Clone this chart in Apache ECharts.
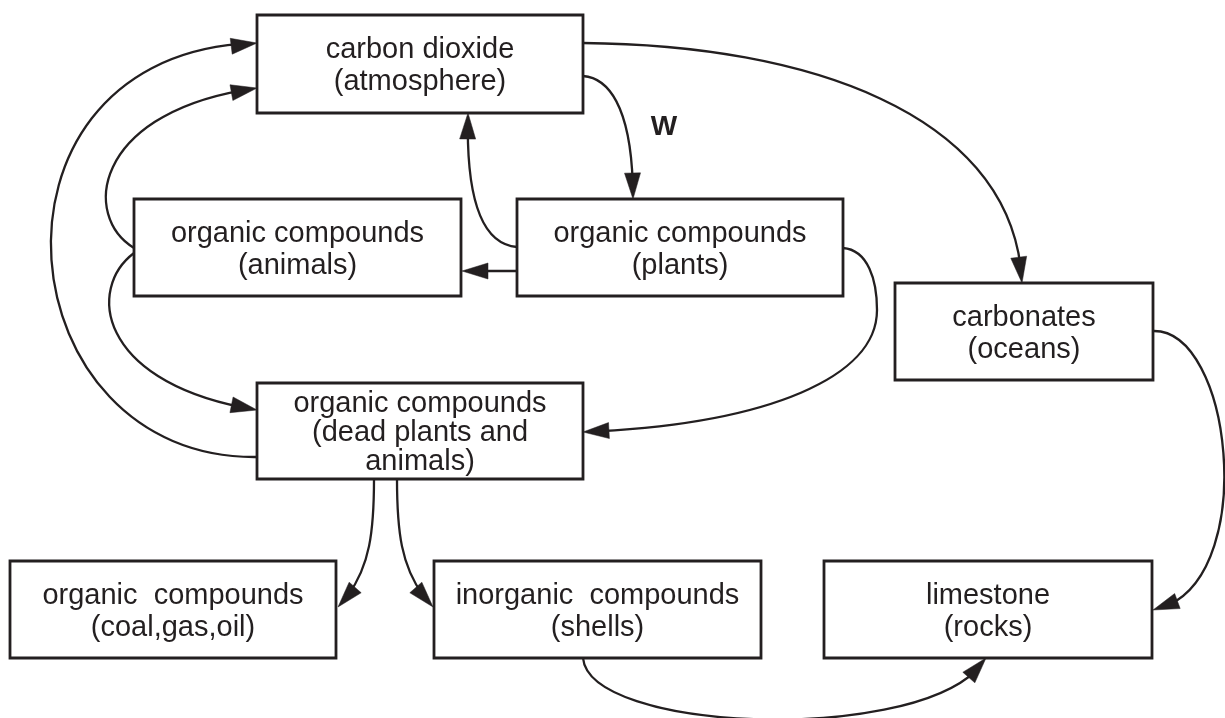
<!DOCTYPE html>
<html><head><meta charset="utf-8">
<script src="https://cdn.jsdelivr.net/npm/echarts@6/dist/echarts.min.js"></script>
<style>html,body{margin:0;padding:0;background:#fff}#c{width:1225px;height:718px}</style>
</head><body><div id="c"></div>
<script>
// ---- diagram content (diagram units = axis units) ----
const boxLabels = [
  'carbon dioxide\n(atmosphere)',
  'organic compounds\n(animals)',
  'organic compounds\n(plants)',
  'carbonates\n(oceans)',
  'organic compounds\n(dead plants and\nanimals)',
  'organic  compounds\n(coal,gas,oil)',
  'inorganic  compounds\n(shells)',
  'limestone\n(rocks)'
];
const boxRects = [
  [257, 15, 583, 113],
  [134, 199, 461, 296],
  [517, 199, 843, 296],
  [895, 283, 1153, 380],
  [257, 383, 583, 479],
  [10, 561, 336, 658],
  [434, 561, 761, 658],
  [824, 561, 1152, 658]
];
// each flow: start, (ctrl, ctrl, point) repeated; arrow head at the last point
const flowNames = ['plants->animals','plants->CO2','CO2->plants','CO2->carbonates','carbonates->limestone',
  'plants->dead','animals->CO2','animals->dead','dead->CO2','dead->coal','dead->shells','shells->limestone'];
const flowPaths = [
  [[517,271],[500,271],[480,271],[462,271]],
  [[517,247],[478,244],[466,190],[468,113]],
  [[583,76],[610,78],[633,110],[633,199]],
  [[583,43],[820,45],[1015,120],[1022,283]],
  [[1154,331],[1235,331],[1260,590],[1153,610]],
  [[843,248],[868,250],[877,280],[877,310],[877,380],[760,425],[583,432]],
  [[134,248],[80,215],[95,110],[257,88]],
  [[134,253],[85,290],[100,385],[257,410]],
  [[257,457],[0,460],[-35,50],[257,43]],
  [[374,479],[374,540],[368,575],[338,607]],
  [[397,479],[397,540],[403,575],[433,607]],
  [[583,658],[590,735],[935,745],[986,658]]
];
const noteLabels = ['W'];
const notePoints = [[664,127]];

// ---- rendering ----
const INK = '#231f20';
const FONT = '"Liberation Sans", Arial, Helvetica, sans-serif';
const HEAD_LEN = 26, HEAD_HALF = 8;

function lerp(a, b, t) { return [a[0] + (b[0]-a[0])*t, a[1] + (b[1]-a[1])*t]; }
function bez(a, b, c, d, t) {
  const u = 1 - t;
  return [u*u*u*a[0] + 3*u*u*t*b[0] + 3*u*t*t*c[0] + t*t*t*d[0],
          u*u*u*a[1] + 3*u*u*t*b[1] + 3*u*t*t*c[1] + t*t*t*d[1]];
}
function trimEnd(a, b, c, d, cut) {
  let t = 1;
  while (t > 0) {
    const p = bez(a, b, c, d, t);
    if (Math.hypot(p[0]-d[0], p[1]-d[1]) >= cut) break;
    t -= 0.002;
  }
  const p01 = lerp(a,b,t), p12 = lerp(b,c,t), p23 = lerp(c,d,t);
  const p012 = lerp(p01,p12,t), p123 = lerp(p12,p23,t);
  const p0123 = lerp(p012,p123,t);
  return [a, p01, p012, p0123];
}

const chart = echarts.init(document.getElementById('c'), null, {renderer: 'canvas'});
chart.setOption({
  animation: false,
  backgroundColor: '#ffffff',
  grid: {left: 0, right: 0, top: 0, bottom: 0},
  xAxis: {type: 'value', min: 0, max: 1225, show: false},
  yAxis: {type: 'value', min: 0, max: 718, inverse: true, show: false},
  series: [
    {
      type: 'custom', name: 'boxes', z: 1, clip: false,
      data: boxRects.map((r, i) => ({value: r, name: boxLabels[i]})),
      encode: {x: [0, 2], y: [1, 3]},
      renderItem(params, api) {
        const r = boxRects[params.dataIndex];
        const p1 = api.coord([r[0], r[1]]), p2 = api.coord([r[2], r[3]]);
        const label = boxLabels[params.dataIndex];
        const nLines = label.split('\n').length;
        return {
          type: 'group',
          children: [
            {type: 'rect', shape: {x: p1[0], y: p1[1], width: p2[0]-p1[0], height: p2[1]-p1[1]},
             style: {fill: '#ffffff', stroke: INK, lineWidth: 2.8}},
            {type: 'text', x: (p1[0]+p2[0])/2, y: (p1[1]+p2[1])/2 + 2,
             style: {text: label, fill: INK, fontSize: 29, fontFamily: FONT,
                     align: 'center', verticalAlign: 'middle',
                     lineHeight: nLines === 3 ? 29 : 32}}
          ]
        };
      }
    },
    {
      type: 'custom', name: 'flows', z: 2, clip: false,
      data: flowPaths.map((p, i) => ({value: p[p.length-1], name: flowNames[i]})),
      renderItem(params, api) {
        const pts = flowPaths[params.dataIndex].map(p => api.coord(p));
        const children = [];
        const nSeg = (pts.length - 1) / 3;
        for (let s = 0; s < nSeg; s++) {
          let seg = [pts[3*s], pts[3*s+1], pts[3*s+2], pts[3*s+3]];
          if (s === nSeg - 1) seg = trimEnd(seg[0], seg[1], seg[2], seg[3], HEAD_LEN * 0.6);
          children.push({type: 'bezierCurve',
            shape: {x1: seg[0][0], y1: seg[0][1], cpx1: seg[1][0], cpy1: seg[1][1],
                    cpx2: seg[2][0], cpy2: seg[2][1], x2: seg[3][0], y2: seg[3][1]},
            style: {stroke: INK, lineWidth: 2.3, fill: 'none'}});
        }
        const n = pts.length;
        const tip = pts[n-1];
        const a = pts[n-4], b = pts[n-3], c = pts[n-2];
        const back = bez(a, b, c, tip, 0.93);
        let dx = tip[0]-back[0], dy = tip[1]-back[1];
        const len = Math.hypot(dx, dy) || 1; dx /= len; dy /= len;
        const bx = tip[0] - dx*HEAD_LEN, by = tip[1] - dy*HEAD_LEN;
        children.push({type: 'polygon',
          shape: {points: [tip, [bx - dy*HEAD_HALF, by + dx*HEAD_HALF], [bx + dy*HEAD_HALF, by - dx*HEAD_HALF]]},
          style: {fill: INK, stroke: INK, lineWidth: 0.5}});
        return {type: 'group', children};
      }
    },
    {
      type: 'custom', name: 'notes', z: 3, clip: false,
      data: notePoints.map((p, i) => ({value: p, name: noteLabels[i]})),
      renderItem(params, api) {
        const p = api.coord(notePoints[params.dataIndex]);
        return {type: 'text', x: p[0], y: p[1],
          style: {text: noteLabels[params.dataIndex], fill: INK, fontSize: 28, fontWeight: 'bold',
                  fontFamily: FONT, align: 'center', verticalAlign: 'middle'}};
      }
    }
  ]
});
</script>
</body></html>
